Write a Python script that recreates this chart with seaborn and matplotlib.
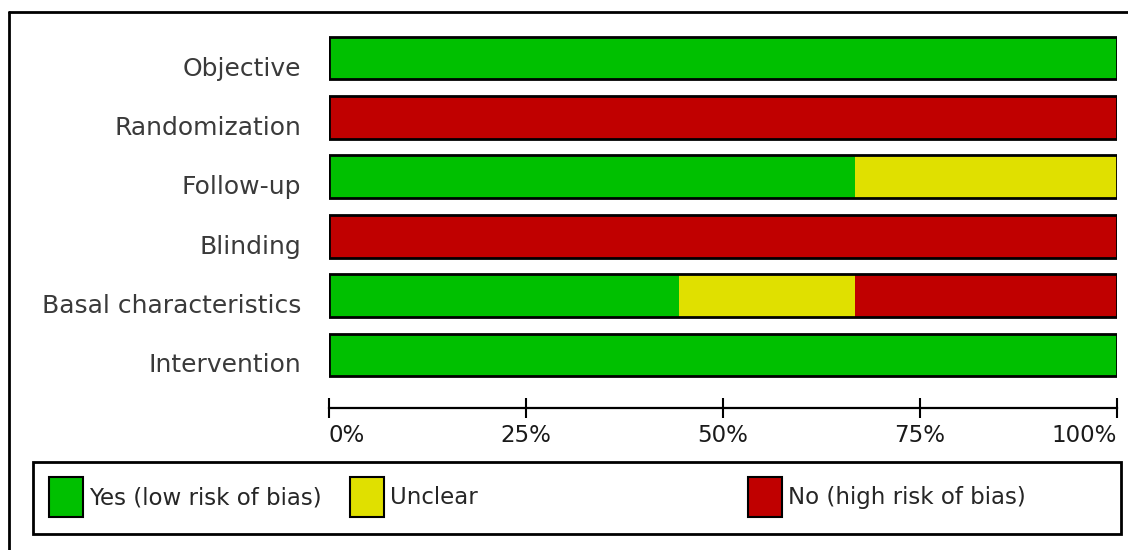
import matplotlib
matplotlib.use("Agg")
from matplotlib import pyplot as plt
from matplotlib.patches import Patch, Rectangle
from matplotlib.lines import Line2D
from matplotlib.transforms import ScaledTranslation
import seaborn as sns
import pandas as pd

# risk of bias summary (percent of studies)
domains = ["Objective", "Randomization", "Follow-up", "Blinding",
           "Basal characteristics", "Intervention"]
yes = [100, 0, 66.7, 0, 44.4, 100]
unclear = [0, 0, 33.3, 0, 22.3, 0]
no = [0, 100, 0, 100, 33.3, 0]
ticks = [0, 25, 50, 75, 100]
tick_labels = ["0%", "25%", "50%", "75%", "100%"]
legend_labels = ["Yes (low risk of bias)", "Unclear", "No (high risk of bias)"]

green = "#00c000"
yellow = "#e0e000"
red = "#c00000"

sns.set_style("white")
plt.rcParams['font.family'] = ['DejaVu Sans']

df = pd.DataFrame({"domain": domains, "yes": yes, "unclear": unclear, "no": no})
df["cum_unclear"] = df["yes"] + df["unclear"]
df["cum_no"] = df["cum_unclear"] + df["no"]

W, H = 1128, 550
fig = plt.figure(figsize=(W / 100, H / 100), dpi=100)
ax = fig.add_axes([329 / W, 1 - 384.7 / H, 788 / W, (384.7 - 28.3) / H])

# stacked bars: draw cumulative totals back to front
sns.barplot(data=df, x="cum_no", y="domain", color=red, width=0.72,
            linewidth=0, saturation=1, ax=ax)
sns.barplot(data=df, x="cum_unclear", y="domain", color=yellow, width=0.72,
            linewidth=0, saturation=1, ax=ax)
sns.barplot(data=df, x="yes", y="domain", color=green, width=0.72,
            linewidth=0, saturation=1, ax=ax)
# outline of each row
sns.barplot(data=df, x="cum_no", y="domain", width=0.72, facecolor="none",
            edgecolor="black", linewidth=2, ax=ax)

ax.set_xlim(0, 100)
ax.set_ylim(len(domains) - 0.5, -0.5)
ax.set_xlabel("")
ax.set_ylabel("")

for s in ["top", "right", "left"]:
    ax.spines[s].set_visible(False)
ax.spines["bottom"].set_position(("outward", 16.8))
ax.spines["bottom"].set_linewidth(1.6)
ax.spines["bottom"].set_color("black")

ax.set_xticks(ticks)
ax.set_xticklabels(tick_labels)
ax.tick_params(axis="x", direction="inout", length=14.4, width=1.5,
               colors="black", labelsize=16.5, pad=4, bottom=True)
ax.tick_params(axis="y", length=0, pad=20, labelsize=18, labelcolor="#3a3a3a")
for lab in ax.get_xticklabels():
    lab.set_color("#1a1a1a")
xl = ax.get_xticklabels()
xl[0].set_horizontalalignment("left")
xl[-1].set_horizontalalignment("right")

# row labels sit a little below the bar centre
shift = ScaledTranslation(0, -8 / 100, fig.dpi_scale_trans)
for lab in ax.get_yticklabels():
    lab.set_transform(lab.get_transform() + shift)

# legend box
fig.add_artist(Rectangle((33 / W, 1 - 534 / H), (1121 - 33) / W, (534 - 462) / H,
                         transform=fig.transFigure, fill=False, lw=2,
                         edgecolor="black"))
leg_x = [49, 350, 748]
for lbl, col, x in zip(legend_labels, [green, yellow, red], leg_x):
    h = Patch(facecolor=col, edgecolor="black", linewidth=1.5)
    fig.legend([h], [lbl], loc="center left", bbox_to_anchor=(x / W, 1 - 497 / H),
               frameon=False, borderpad=0, borderaxespad=0, fontsize=16.5,
               handlelength=1.48, handleheight=2.31, handletextpad=0.25)

# outer frame (top and left edge)
fig.add_artist(Line2D([9 / W, 1.0], [1 - 12 / H, 1 - 12 / H],
                      transform=fig.transFigure, color="black", lw=2))
fig.add_artist(Line2D([9 / W, 9 / W], [0, 1 - 12 / H],
                      transform=fig.transFigure, color="black", lw=2))

fig.savefig("out.png", dpi=100)
plt.close(fig)
